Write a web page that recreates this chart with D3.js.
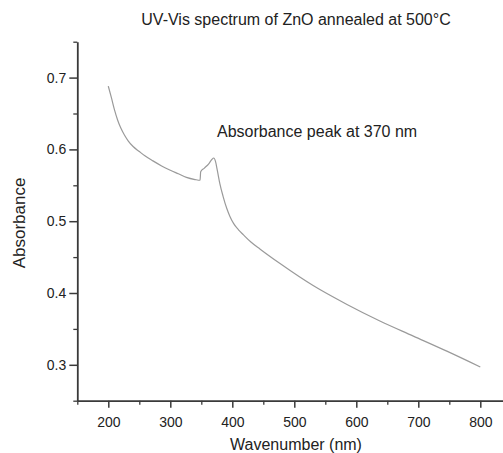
<!DOCTYPE html>
<html>
<head>
<meta charset="utf-8">
<script src="https://cdn.jsdelivr.net/npm/d3@7"></script>
<style>
  html, body { margin: 0; padding: 0; background: #fff; }
  svg { display: block; font-family: "Liberation Sans", Arial, sans-serif; }
</style>
</head>
<body>
<svg id="chart" width="503" height="453"></svg>
<script>
// UV-Vis absorbance spectrum of ZnO annealed at 500 °C
const wavelengths = [200, 205, 210, 215, 220, 226, 232, 240, 250, 259, 272, 286, 300, 313, 326, 340, 348,
  349, 355, 362, 367, 370, 373, 376, 380, 385, 391, 396, 402, 410, 418, 430, 445, 477,
  531, 585, 638, 692, 746, 800];
const absorbance = [0.688, 0.672, 0.655, 0.641, 0.630, 0.620, 0.612, 0.604, 0.597, 0.591, 0.584, 0.577, 0.571, 0.566, 0.561, 0.558, 0.557,
  0.569, 0.574, 0.580, 0.586, 0.588, 0.583, 0.570, 0.552, 0.535, 0.518, 0.507, 0.497, 0.488, 0.481, 0.471, 0.461, 0.441,
  0.410, 0.384, 0.361, 0.340, 0.319, 0.297];
const xTicks = [200, 300, 400, 500, 600, 700, 800];
const xMinorTicks = [150, 250, 350, 450, 550, 650, 750, 850];
const yTicks = [0.3, 0.4, 0.5, 0.6, 0.7];
const yMinorTicks = [0.25, 0.35, 0.45, 0.55, 0.65, 0.75];

const titleText = "UV-Vis spectrum of ZnO annealed at 500°C";
const peakNote = "Absorbance peak at 370 nm";
const xLabel = "Wavenumber (nm)";
const yLabel = "Absorbance";

const svg = d3.select("#chart");
const axisColor = "#3a3a3a";

const x = d3.scaleLinear().domain([150, 850]).range([77.3, 511.3]);
const y = d3.scaleLinear().domain([0.25, 0.75]).range([400.7, 41.7]);

// minor ticks
svg.append("g")
  .attr("transform", `translate(0,${y(0.25)})`)
  .call(d3.axisBottom(x).tickValues(xMinorTicks).tickSize(4).tickFormat(""))
  .call(g => g.select(".domain").remove())
  .call(g => g.selectAll("line").attr("stroke", axisColor).attr("stroke-width", 1.3));
svg.append("g")
  .attr("transform", `translate(${x(150)},0)`)
  .call(d3.axisLeft(y).tickValues(yMinorTicks).tickSize(4).tickFormat(""))
  .call(g => g.select(".domain").remove())
  .call(g => g.selectAll("line").attr("stroke", axisColor).attr("stroke-width", 1.3));

// major axes
const xAxis = svg.append("g")
  .attr("transform", `translate(0,${y(0.25)})`)
  .call(d3.axisBottom(x).tickValues(xTicks).tickSize(7).tickSizeOuter(0).tickPadding(9).tickFormat(d3.format("d")));
xAxis.select(".domain").attr("stroke", axisColor).attr("stroke-width", 1.8);
xAxis.selectAll("line").attr("stroke", axisColor).attr("stroke-width", 1.5);
xAxis.selectAll("text").attr("font-size", 14).attr("fill", "#222").attr("font-family", "Liberation Sans, Arial, sans-serif");

const yAxis = svg.append("g")
  .attr("transform", `translate(${x(150)},0)`)
  .call(d3.axisLeft(y).tickValues(yTicks).tickSize(8).tickSizeOuter(0).tickPadding(3).tickFormat(d3.format(".1f")));
yAxis.select(".domain").attr("stroke", axisColor).attr("stroke-width", 1.8);
yAxis.selectAll("line").attr("stroke", axisColor).attr("stroke-width", 1.5);
yAxis.selectAll("text").attr("font-size", 14).attr("fill", "#222").attr("font-family", "Liberation Sans, Arial, sans-serif");

// spectrum curve
const line = d3.line()
  .x((d, i) => x(wavelengths[i]))
  .y(d => y(d))
  .curve(d3.curveMonotoneX);
svg.append("path")
  .datum(absorbance)
  .attr("d", line)
  .attr("fill", "none")
  .attr("stroke", "#9a9a9a")
  .attr("stroke-width", 1.2);

// texts
svg.append("text")
  .attr("x", 296).attr("y", 25)
  .attr("text-anchor", "middle")
  .attr("font-size", 16).attr("fill", "#222")
  .text(titleText);

svg.append("text")
  .attr("x", 217).attr("y", 137)
  .attr("font-size", 16).attr("fill", "#222")
  .text(peakNote);

svg.append("text")
  .attr("x", 296).attr("y", 450)
  .attr("text-anchor", "middle")
  .attr("font-size", 16).attr("fill", "#222")
  .text(xLabel);

svg.append("text")
  .attr("transform", "translate(25,223) rotate(-90)")
  .attr("text-anchor", "middle")
  .attr("font-size", 17).attr("fill", "#222")
  .text(yLabel);
</script>
</body>
</html>
